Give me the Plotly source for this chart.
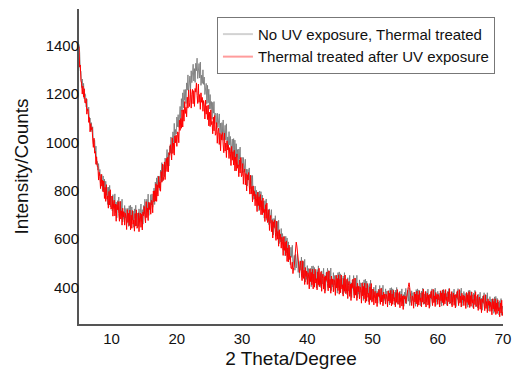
import numpy as np
import plotly.graph_objects as go

# Scan: 2-theta from 5 to 70 degrees, 0.1 degree step
start_angle = 5.0
step_angle = 0.1

series_names = ["No UV exposure, Thermal treated", "Thermal treated after UV exposure"]

# one row per degree (d.0 ... d.9)
no_uv_counts = [
    1404, 1370, 1296, 1292, 1226, 1261, 1221, 1243, 1179, 1201,   # 5
    1197, 1146, 1178, 1129, 1136, 1145, 1083, 1100, 1046, 1081,   # 6
    1043, 1064, 995, 1011, 1007, 955, 984, 908, 921, 885,         # 7
    912, 864, 888, 831, 850, 867, 800, 861, 803, 848,             # 8
    777, 839, 782, 814, 743, 815, 772, 822, 733, 777,             # 9
    778, 717, 784, 727, 756, 787, 710, 753, 688, 759,             # 10
    720, 774, 691, 739, 756, 698, 765, 671, 714, 682,             # 11
    739, 688, 727, 664, 697, 728, 653, 738, 675, 740,             # 12
    667, 733, 680, 716, 649, 725, 686, 740, 655, 703,             # 13
    708, 653, 725, 674, 708, 745, 673, 722, 662, 739,             # 14
    705, 765, 688, 742, 765, 713, 786, 698, 747, 721,             # 15
    784, 741, 787, 732, 772, 811, 743, 836, 780, 853,             # 16
    787, 861, 816, 860, 801, 885, 854, 916, 839, 895,             # 17
    908, 858, 935, 889, 928, 970, 903, 957, 902, 984,             # 18
    955, 1022, 952, 1013, 1043, 998, 1078, 997, 1053, 1034,       # 19
    1104, 1064, 1114, 1062, 1106, 1148, 1084, 1180, 1128, 1204,   # 20
    1142, 1217, 1173, 1218, 1160, 1245, 1215, 1278, 1202, 1259,   # 21
    1273, 1220, 1295, 1246, 1283, 1322, 1253, 1304, 1247, 1326,   # 22
    1295, 1347, 1263, 1309, 1325, 1265, 1331, 1235, 1277, 1243,   # 23
    1299, 1239, 1269, 1197, 1221, 1243, 1159, 1235, 1163, 1219,   # 24
    1137, 1197, 1138, 1168, 1095, 1165, 1120, 1168, 1077, 1119,   # 25
    1118, 1055, 1120, 1061, 1088, 1117, 1038, 1079, 1012, 1081,   # 26
    1040, 1092, 1008, 1054, 1070, 1010, 1076, 980, 1022, 988,     # 27
    1044, 989, 1024, 957, 986, 1013, 934, 1015, 948, 1009,        # 28
    932, 994, 938, 970, 900, 972, 930, 980, 892, 936,             # 29
    938, 874, 937, 877, 902, 930, 849, 889, 820, 888,             # 30
    845, 894, 807, 850, 863, 800, 863, 764, 803, 766,             # 31
    819, 765, 802, 736, 766, 795, 717, 799, 733, 796,             # 32
    720, 782, 725, 757, 687, 759, 716, 766, 678, 721,             # 33
    723, 660, 725, 666, 693, 722, 643, 684, 617, 686,             # 34
    645, 697, 612, 658, 673, 613, 678, 582, 623, 589,             # 35
    644, 589, 623, 556, 584, 611, 531, 612, 544, 605,             # 36
    527, 589, 533, 565, 495, 567, 525, 575, 487, 531,             # 37
    533, 472, 538, 481, 510, 541, 463, 506, 441, 511,             # 38
    472, 526, 443, 491, 508, 450, 517, 423, 466, 434,             # 39
    491, 440, 479, 415, 448, 479, 404, 489, 425, 490,             # 40
    417, 483, 430, 466, 399, 475, 436, 490, 405, 453,             # 41
    458, 400, 469, 415, 446, 480, 405, 451, 388, 462,             # 42
    425, 480, 400, 449, 468, 412, 481, 388, 434, 403,             # 43
    462, 411, 450, 388, 421, 452, 377, 462, 400, 465,             # 44
    392, 457, 404, 440, 373, 448, 409, 462, 378, 425,             # 45
    430, 371, 441, 386, 417, 451, 376, 421, 359, 432,             # 46
    395, 450, 370, 419, 438, 382, 451, 358, 404, 373,             # 47
    432, 381, 420, 358, 391, 422, 347, 432, 370, 435,             # 48
    362, 427, 374, 409, 342, 417, 378, 431, 346, 393,             # 49
    394, 347, 402, 359, 383, 410, 349, 385, 336, 394,             # 50
    364, 409, 344, 384, 399, 354, 410, 335, 372, 347,             # 51
    395, 355, 386, 337, 364, 388, 329, 398, 347, 400,             # 52
    343, 395, 354, 382, 329, 390, 358, 401, 334, 372,             # 53
    376, 330, 386, 343, 367, 395, 335, 372, 323, 381,             # 54
    352, 397, 333, 373, 389, 344, 400, 326, 363, 339,             # 55
    387, 347, 379, 330, 357, 382, 323, 392, 342, 395,             # 56
    338, 390, 349, 378, 325, 386, 355, 398, 331, 370,             # 57
    374, 328, 384, 341, 366, 394, 334, 371, 322, 381,             # 58
    353, 395, 335, 372, 390, 343, 398, 327, 362, 341,             # 59
    385, 349, 377, 332, 356, 384, 324, 390, 344, 393,             # 60
    340, 388, 351, 376, 327, 384, 357, 396, 333, 368,             # 61
    374, 328, 384, 341, 366, 394, 334, 371, 322, 381,             # 62
    352, 396, 332, 372, 388, 342, 398, 324, 361, 337,             # 63
    384, 344, 376, 327, 354, 378, 319, 388, 337, 390,             # 64
    333, 384, 343, 371, 318, 378, 347, 389, 322, 360,             # 65
    364, 317, 373, 329, 353, 381, 320, 356, 307, 365,             # 66
    335, 379, 315, 354, 369, 324, 379, 304, 341, 316,             # 67
    363, 322, 353, 304, 330, 354, 294, 362, 312, 364,             # 68
    306, 356, 314, 341, 287, 346, 313, 355, 286, 324,             # 69
    310,                                                          # 70
]

uv_counts = [
    1395, 1310, 1319, 1254, 1244, 1199, 1232, 1186, 1221, 1163,   # 5
    1162, 1181, 1116, 1138, 1135, 1082, 1102, 1043, 1077, 1052,   # 6
    1061, 1014, 979, 1017, 955, 962, 909, 940, 900, 900,          # 7
    844, 876, 859, 809, 868, 819, 843, 795, 840, 768,             # 8
    814, 756, 825, 765, 778, 728, 797, 741, 804, 724,             # 9
    729, 778, 695, 746, 761, 696, 745, 674, 743, 722,             # 10
    755, 705, 674, 756, 683, 717, 658, 728, 691, 713,             # 11
    658, 707, 693, 640, 722, 669, 707, 656, 720, 639,             # 12
    699, 645, 718, 662, 679, 633, 706, 654, 721, 645,             # 13
    654, 709, 631, 688, 708, 649, 703, 638, 712, 697,             # 14
    735, 691, 667, 755, 689, 729, 677, 753, 723, 751,             # 15
    703, 760, 754, 709, 799, 754, 800, 757, 829, 756,             # 16
    824, 778, 859, 811, 836, 798, 879, 835, 910, 842,             # 17
    859, 919, 846, 908, 933, 879, 938, 878, 957, 947,             # 18
    990, 949, 927, 1018, 954, 997, 947, 1026, 998, 1029,          # 19
    983, 1043, 1040, 998, 1091, 1049, 1098, 1058, 1133, 1063,     # 20
    1134, 1087, 1168, 1119, 1144, 1105, 1186, 1141, 1216, 1147,   # 21
    1164, 1219, 1141, 1198, 1218, 1159, 1213, 1148, 1222, 1207,   # 22
    1245, 1193, 1160, 1240, 1165, 1197, 1136, 1204, 1165, 1185,   # 23
    1128, 1172, 1154, 1096, 1174, 1116, 1150, 1094, 1154, 1068,   # 24
    1124, 1065, 1134, 1073, 1086, 1035, 1104, 1047, 1110, 1029,   # 25
    1034, 1081, 996, 1045, 1058, 991, 1038, 965, 1032, 1009,      # 26
    1040, 989, 957, 1038, 964, 997, 937, 1006, 968, 989,          # 27
    933, 978, 961, 904, 983, 926, 961, 906, 967, 882,             # 28
    939, 882, 952, 893, 907, 858, 928, 873, 937, 858,             # 29
    864, 912, 827, 877, 890, 824, 871, 799, 866, 844,             # 30
    875, 821, 786, 864, 787, 817, 754, 820, 779, 797,             # 31
    738, 785, 769, 714, 794, 739, 775, 722, 784, 701,             # 32
    759, 701, 770, 710, 723, 673, 742, 686, 749, 669,             # 33
    674, 721, 636, 685, 698, 631, 678, 605, 672, 649,             # 34
    680, 628, 595, 675, 600, 632, 571, 639, 600, 620,             # 35
    563, 608, 590, 533, 611, 554, 588, 533, 593, 508,             # 36
    564, 506, 576, 516, 530, 480, 478, 505, 458, 482,             # 37
    490, 522, 552, 588, 572, 538, 500, 480, 462, 492,             # 38
    510, 460, 429, 511, 438, 472, 413, 483, 446, 468,             # 39
    413, 462, 448, 395, 478, 425, 463, 412, 477, 395,             # 40
    456, 402, 476, 419, 437, 391, 465, 412, 480, 404,             # 41
    414, 466, 385, 439, 456, 394, 445, 377, 448, 430,             # 42
    465, 416, 387, 470, 399, 434, 377, 448, 413, 436,             # 43
    383, 433, 420, 368, 451, 399, 438, 388, 453, 373,             # 44
    434, 379, 452, 395, 412, 365, 438, 385, 452, 375,             # 45
    384, 436, 355, 409, 426, 364, 415, 347, 418, 400,             # 46
    435, 386, 357, 440, 369, 404, 347, 418, 383, 406,             # 47
    353, 402, 389, 336, 419, 366, 405, 354, 419, 338,             # 48
    399, 344, 417, 360, 377, 330, 403, 350, 417, 340,             # 49
    352, 394, 329, 372, 385, 336, 376, 322, 379, 364,             # 50
    392, 354, 331, 397, 341, 370, 325, 382, 355, 374,             # 51
    332, 372, 362, 320, 387, 345, 377, 337, 389, 325,             # 52
    374, 331, 389, 344, 359, 321, 380, 339, 392, 331,             # 53
    339, 381, 317, 359, 373, 324, 365, 310, 368, 353,             # 54
    365, 335, 360, 378, 392, 405, 420, 400, 382, 355,             # 55
    326, 366, 357, 315, 382, 341, 373, 333, 386, 322,             # 56
    371, 328, 387, 343, 358, 321, 380, 340, 394, 333,             # 57
    342, 384, 320, 363, 377, 328, 369, 315, 373, 358,             # 58
    387, 349, 326, 393, 338, 366, 322, 380, 353, 373,             # 59
    331, 371, 362, 320, 387, 346, 378, 338, 391, 327,             # 60
    376, 333, 392, 347, 362, 325, 383, 342, 396, 335,             # 61
    343, 383, 321, 362, 378, 327, 370, 316, 372, 359,             # 62
    387, 349, 326, 392, 337, 365, 320, 377, 350, 369,             # 63
    326, 366, 356, 314, 380, 339, 371, 330, 383, 318,             # 64
    367, 323, 382, 336, 351, 313, 371, 330, 383, 322,             # 65
    329, 370, 306, 348, 361, 311, 352, 297, 354, 339,             # 66
    367, 328, 305, 371, 314, 343, 297, 354, 327, 345,             # 67
    302, 341, 331, 288, 354, 312, 343, 302, 354, 289,             # 68
    337, 293, 350, 304, 318, 280, 337, 295, 348, 285,             # 69
    300,                                                          # 70
]

x_ticks = [10, 20, 30, 40, 50, 60, 70]
y_ticks = [400, 600, 800, 1000, 1200, 1400]

line_colors = ["rgba(120,120,120,0.85)", "#ff0000"]
legend_colors = ["#d2d2d2", "#ff9c9c"]


def angles(n):
    return np.round(start_angle + step_angle * np.arange(n), 2)


fig = go.Figure()
for name, counts, color in zip(series_names, [no_uv_counts, uv_counts], line_colors):
    fig.add_trace(go.Scatter(
        x=angles(len(counts)), y=counts, mode="lines", name=name,
        line=dict(color=color, width=1), showlegend=False,
    ))
# legend entries (drawn with the light sample colour of the original key)
for name, color in zip(series_names, legend_colors):
    fig.add_trace(go.Scatter(
        x=[None], y=[None], mode="lines", name=name,
        line=dict(color=color, width=2), showlegend=True,
    ))

font_family = "Liberation Sans, Arial, sans-serif"
fig.update_layout(
    width=520, height=375,
    margin=dict(l=79, r=9, t=9, b=47),
    paper_bgcolor="white", plot_bgcolor="white",
    font=dict(family=font_family, size=15, color="#111111"),
    showlegend=True,
    legend=dict(
        x=0.981, y=0.975, xanchor="right", yanchor="top",
        bgcolor="white", bordercolor="#777777", borderwidth=1,
        font=dict(size=15, family=font_family, color="#111111"),
        tracegroupgap=0, itemwidth=30,
    ),
    xaxis=dict(
        range=[5, 70], tickvals=x_ticks, ticks="", showgrid=False, zeroline=False,
        showline=True, linecolor="#555555", linewidth=2,
        title=dict(text="2 Theta/Degree", font=dict(size=19), standoff=6),
    ),
    yaxis=dict(
        range=[250, 1550], tickvals=y_ticks, ticks="outside", ticklen=0, tickwidth=0,
        tickcolor="white", showgrid=False, zeroline=False,
        showline=True, linecolor="#555555", linewidth=2, ticklabelstandoff=-5,
        title=dict(text="Intensity/Counts", font=dict(size=19), standoff=12),
    ),
)

fig.write_html("out.html")
